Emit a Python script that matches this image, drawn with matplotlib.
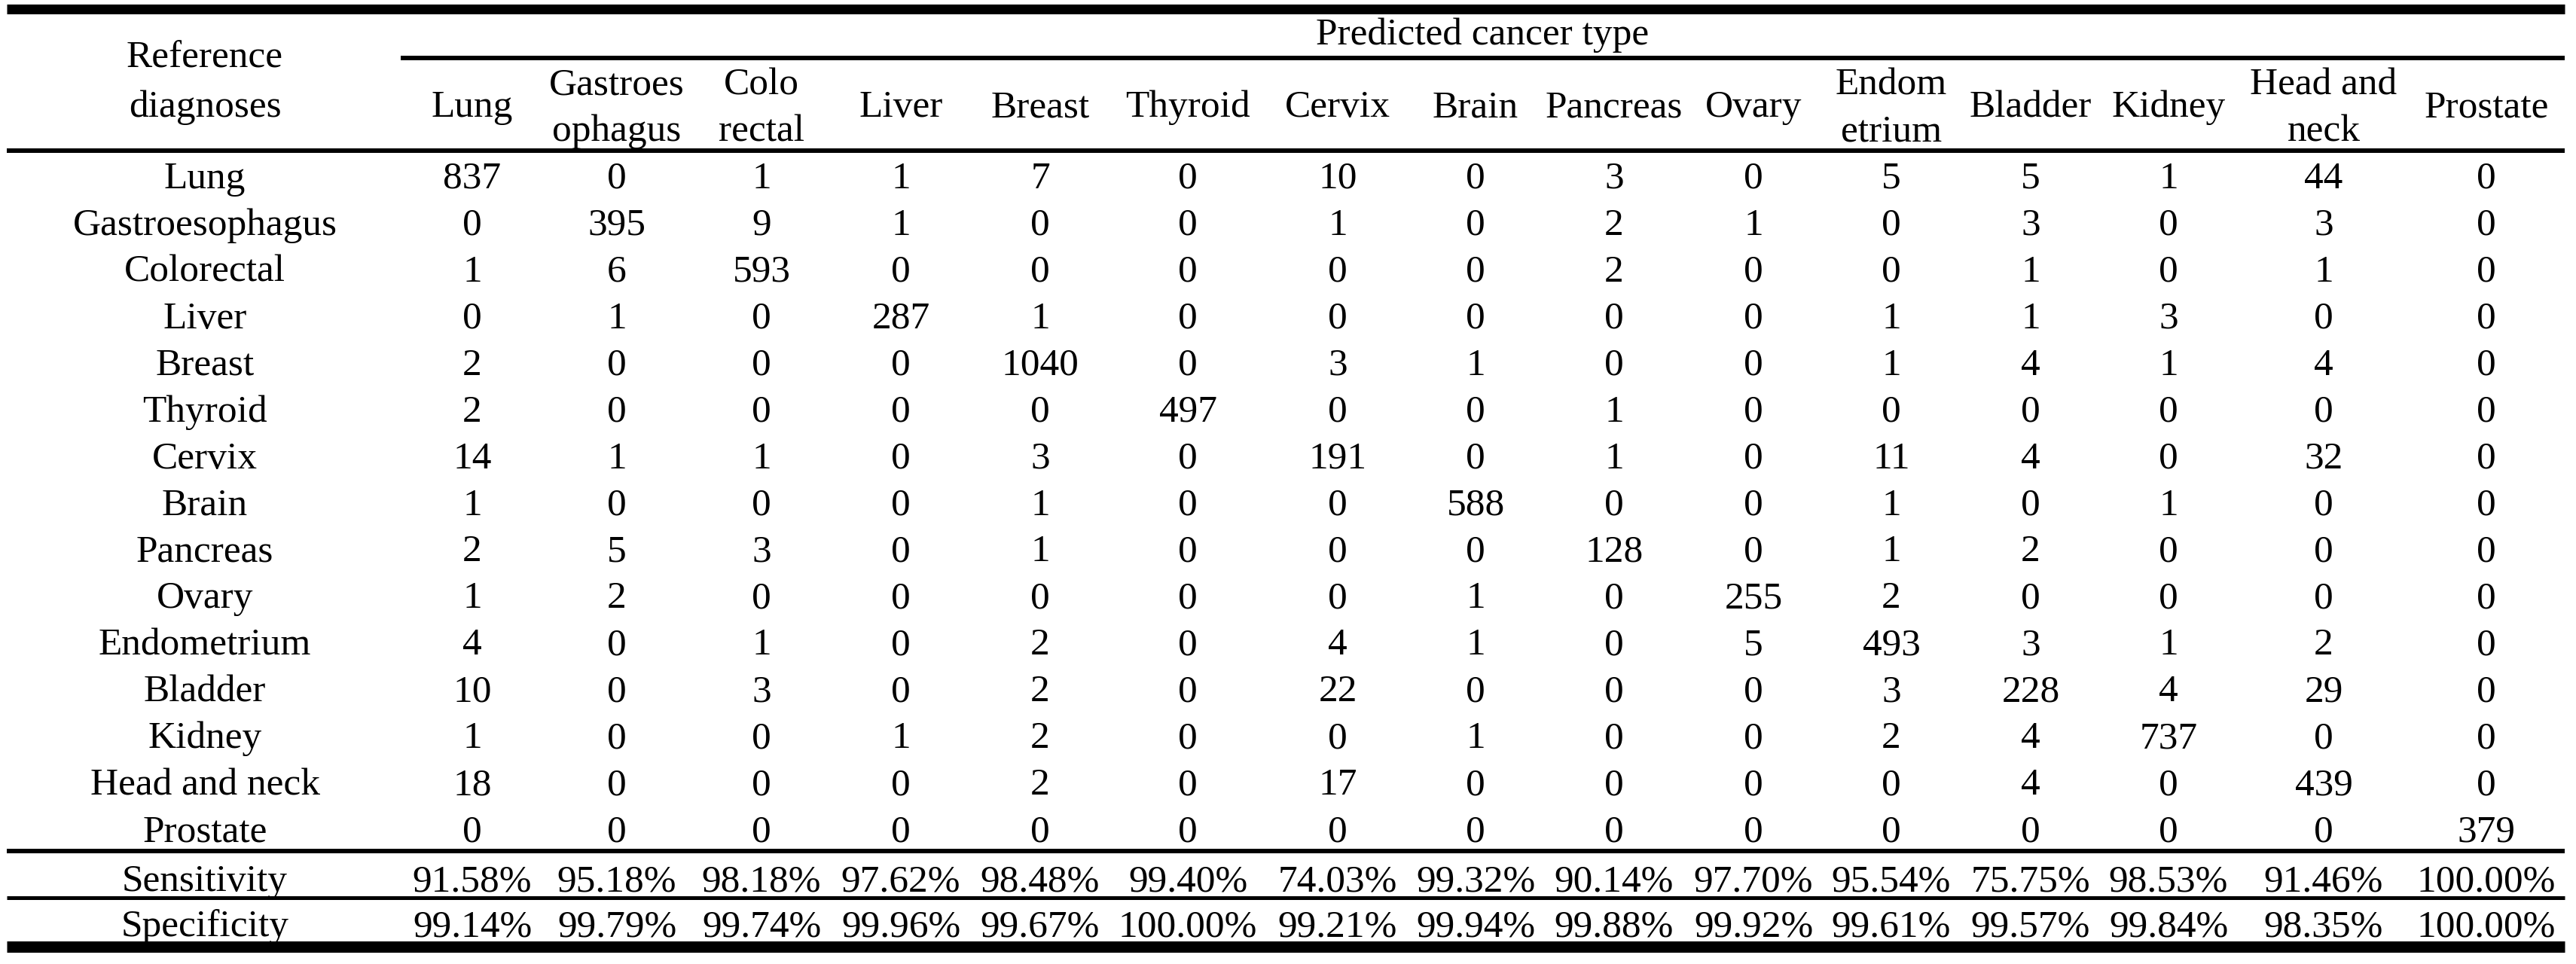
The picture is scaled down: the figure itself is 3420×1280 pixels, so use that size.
import matplotlib.pyplot as plt

# * * * * * * * * * * * * * * * * * * * * * * * * * * * * * * * * * * * * * * *
# Data
# ~~~~
reference = [
    "Lung", "Gastroesophagus", "Colorectal", "Liver", "Breast", "Thyroid",
    "Cervix", "Brain", "Pancreas", "Ovary", "Endometrium", "Bladder",
    "Kidney", "Head and neck", "Prostate"
]

predicted = [
    "Lung", "Gastroes\nophagus", "Colo\nrectal", "Liver", "Breast", "Thyroid",
    "Cervix", "Brain", "Pancreas", "Ovary", "Endom\netrium", "Bladder",
    "Kidney", "Head and\nneck", "Prostate"
]

# rows = reference diagnoses, columns = predicted cancer type
counts = [
    [837,   0,   1,   1,    7,   0,  10,   0,   3,   0,   5,   5,   1,  44,   0],
    [  0, 395,   9,   1,    0,   0,   1,   0,   2,   1,   0,   3,   0,   3,   0],
    [  1,   6, 593,   0,    0,   0,   0,   0,   2,   0,   0,   1,   0,   1,   0],
    [  0,   1,   0, 287,    1,   0,   0,   0,   0,   0,   1,   1,   3,   0,   0],
    [  2,   0,   0,   0, 1040,   0,   3,   1,   0,   0,   1,   4,   1,   4,   0],
    [  2,   0,   0,   0,    0, 497,   0,   0,   1,   0,   0,   0,   0,   0,   0],
    [ 14,   1,   1,   0,    3,   0, 191,   0,   1,   0,  11,   4,   0,  32,   0],
    [  1,   0,   0,   0,    1,   0,   0, 588,   0,   0,   1,   0,   1,   0,   0],
    [  2,   5,   3,   0,    1,   0,   0,   0, 128,   0,   1,   2,   0,   0,   0],
    [  1,   2,   0,   0,    0,   0,   0,   1,   0, 255,   2,   0,   0,   0,   0],
    [  4,   0,   1,   0,    2,   0,   4,   1,   0,   5, 493,   3,   1,   2,   0],
    [ 10,   0,   3,   0,    2,   0,  22,   0,   0,   0,   3, 228,   4,  29,   0],
    [  1,   0,   0,   1,    2,   0,   0,   1,   0,   0,   2,   4, 737,   0,   0],
    [ 18,   0,   0,   0,    2,   0,  17,   0,   0,   0,   0,   4,   0, 439,   0],
    [  0,   0,   0,   0,    0,   0,   0,   0,   0,   0,   0,   0,   0,   0, 379],
]

sensitivity = [91.58, 95.18, 98.18, 97.62, 98.48, 99.40, 74.03, 99.32,
               90.14, 97.70, 95.54, 75.75, 98.53, 91.46, 100.00]
specificity = [99.14, 99.79, 99.74, 99.96, 99.67, 100.00, 99.21, 99.94,
               99.88, 99.92, 99.61, 99.57, 99.84, 98.35, 100.00]

# * * * * * * * * * * * * * * * * * * * * * * * * * * * * * * * * * * * * * * *
# Layout (canvas pixels, y grows downwards)
# ~~~~~~
W, H     = 3420, 1280
colX     = [627, 819, 1011, 1196, 1381, 1577, 1776, 1959,
            2143, 2328, 2511, 2696, 2879, 3085, 3301]
labelX   = 272
left     = 9
right    = 3405
row0     = 233
rowStep  = 61.93
digitOff = 17   # baseline below the visual centre of a line
fs       = 37

plt.rcParams['font.family'] = ['Liberation Serif', 'DejaVu Serif']

fig = plt.figure(figsize=(W/100, H/100), dpi=100)
ax = fig.add_axes([0, 0, 1, 1])
ax.set_xlim(0, W)
ax.set_ylim(H, 0)
ax.axis('off')


def rule(y, px, x0=left, x1=right):
    ax.plot([x0, x1], [y, y], color='black', linewidth=px*0.72,
            solid_capstyle='butt')


def cell(x, y, s):
    ax.text(x, y, s, ha='center', va='baseline', fontsize=fs, color='black')


#- Rules
rule(11.5, 13)
rule(77, 6, x0=532)
rule(200, 6)
rule(1130, 6)
rule(1192, 5)
rule(1257, 15)

#- Header
cell(labelX, 89, "Reference")
cell(labelX, 155, "diagnoses")
cell((532 + right)/2, 59, "Predicted cancer type")

for x, name in zip(colX, predicted):
    lines = name.split('\n')
    if len(lines) == 1:
        cell(x, 155, lines[0])
    else:
        cell(x, 125, lines[0])
        cell(x, 187, lines[1])

#- Confusion matrix
for i, (name, row) in enumerate(zip(reference, counts)):
    y = row0 + i*rowStep + digitOff
    cell(labelX, y, name)
    for x, v in zip(colX, row):
        cell(x, y, str(v))

#- Sensitivity / specificity
cell(labelX, 1183, "Sensitivity")
cell(labelX, 1243, "Specificity")
for x, s, p in zip(colX, sensitivity, specificity):
    cell(x, 1183, f'{s:.2f}%')
    cell(x, 1243, f'{p:.2f}%')

fig.savefig('out.png', dpi=100, facecolor='white')
